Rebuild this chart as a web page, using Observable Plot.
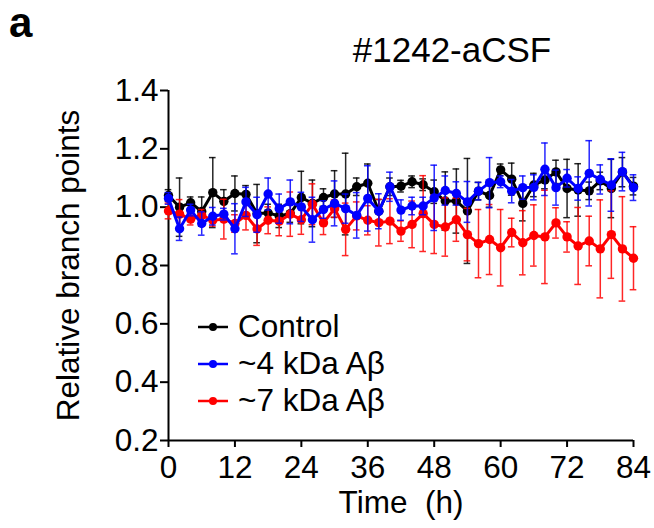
<!DOCTYPE html>
<html>
<head>
<meta charset="utf-8">
<script src="https://cdn.jsdelivr.net/npm/d3@7"></script>
<script src="https://cdn.jsdelivr.net/npm/@observablehq/plot@0.6"></script>
<style>
  html, body { margin: 0; padding: 0; background: #fff; }
  body { width: 654px; height: 528px; overflow: hidden; font-family: "Liberation Sans", Arial, sans-serif; }
  #wrap { position: relative; width: 654px; height: 528px; }
  #header { position: relative; width: 654px; height: 70px; }
  #panel { position: absolute; left: 9px; top: 2px; font-size: 42px; font-weight: bold; line-height: 1; }
  #title { position: absolute; left: 0; width: 904px; text-align: center; top: 32px; font-size: 35px; line-height: 1; }
  #legend { position: absolute; left: 196px; top: 308px; font-size: 31.5px; }
  .row { display: flex; align-items: center; height: 37px; }
  .row svg { margin-right: 8px; }
</style>
</head>
<body>
<div id="wrap">
  <div id="header"><div id="panel">a</div><div id="title">#1242-aCSF</div></div>
  <div id="chart"></div>
  <div id="legend"></div>
</div>
<script>
// Time points (h)
const hours = [0,2,4,6,8,10,12,14,16,18,20,22,24,26,28,30,32,34,36,38,40,42,44,46,48,50,52,54,56,58,60,62,64,66,68,70,72,74,76,78,80,82,84];

// Control
const controlMean = [1.04,1.00,1.015,0.985,1.05,1.02,1.047,1.044,0.978,0.98,0.97,0.978,1.033,1.013,1.033,1.045,1.045,1.07,1.082,0.986,1.07,1.072,1.087,1.077,1.053,1.021,1.021,0.987,1.055,1.04,1.128,1.096,1.013,1.076,1.093,1.121,1.064,1.059,1.056,1.09,1.064,1.12,1.072];
const controlSem  = [0.02,0.10,0.02,0.05,0.12,0.04,0.06,0.03,0.10,0.03,0.04,0.03,0.09,0.08,0.03,0.08,0.14,0.03,0.066,0.04,0.03,0.02,0.02,0.02,0.04,0.10,0.11,0.18,0.03,0.04,0.02,0.055,0.06,0.04,0.03,0.04,0.10,0.09,0.03,0.03,0.10,0.05,0.03];

// ~4 kDa Aβ
const a4Mean = [1.03,0.926,0.99,0.944,0.969,0.976,0.926,1.018,0.974,1.045,0.995,1.018,1.001,0.957,0.992,1.013,0.995,0.972,1.03,0.986,1.07,0.99,1.004,1.004,1.032,1.057,1.047,1.018,1.055,1.084,1.087,1.055,1.067,1.068,1.13,1.067,1.099,1.064,1.116,1.095,1.076,1.122,1.067];
const a4Sem  = [0.02,0.04,0.02,0.04,0.03,0.02,0.086,0.05,0.06,0.055,0.05,0.075,0.05,0.077,0.03,0.077,0.05,0.078,0.112,0.06,0.05,0.035,0.03,0.03,0.112,0.05,0.04,0.07,0.03,0.086,0.02,0.04,0.04,0.043,0.09,0.06,0.03,0.04,0.112,0.05,0.09,0.066,0.044];

// ~7 kDa Aβ
const a7Mean = [0.987,0.976,0.959,0.972,0.955,0.959,0.944,0.972,0.925,0.955,0.952,0.976,0.957,1.01,0.946,0.995,0.924,0.97,0.955,0.947,0.952,0.918,0.941,0.978,0.941,0.932,0.957,0.906,0.875,0.889,0.861,0.913,0.878,0.903,0.898,0.946,0.898,0.867,0.884,0.857,0.906,0.857,0.825];
const a7Sem  = [0.027,0.05,0.02,0.02,0.02,0.068,0.03,0.05,0.056,0.046,0.05,0.076,0.05,0.07,0.04,0.03,0.09,0.048,0.05,0.08,0.077,0.035,0.08,0.13,0.10,0.10,0.074,0.09,0.117,0.12,0.131,0.049,0.11,0.105,0.16,0.052,0.052,0.132,0.085,0.168,0.15,0.179,0.108];

const seriesNames = ["Control", "~4 kDa Aβ", "~7 kDa Aβ"];
const seriesColors = ["#000000", "#0000ff", "#ff0000"];
const xTicks = [0, 12, 24, 36, 48, 60, 72, 84];
const yTicks = [0.2, 0.4, 0.6, 0.8, 1.0, 1.2, 1.4];
const xLabel = "Time\u00A0\u00A0(h)";
const yLabel = "Relative branch points";

const series = [
  {name: seriesNames[0], color: seriesColors[0], mean: controlMean, sem: controlSem},
  {name: seriesNames[1], color: seriesColors[1], mean: a4Mean, sem: a4Sem},
  {name: seriesNames[2], color: seriesColors[2], mean: a7Mean, sem: a7Sem}
];
const rowsOf = s => hours.map((h, i) => ({h, m: s.mean[i], s: s.sem[i]}));

// draw order: control, ~7 kDa, ~4 kDa
const drawOrder = [series[0], series[2], series[1]];
const marks = [];
for (const s of drawOrder) {
  const rows = rowsOf(s);
  marks.push(
    Plot.ruleX(rows, {x: "h", y1: d => d.m - d.s, y2: d => d.m + d.s, stroke: s.color, strokeWidth: 1.5, strokeOpacity: 0.85}),
    Plot.ruleY(rows, {y: d => d.m + d.s, x1: d => d.h - 0.6, x2: d => d.h + 0.6, stroke: s.color, strokeWidth: 1.5, strokeOpacity: 0.85}),
    Plot.ruleY(rows, {y: d => d.m - d.s, x1: d => d.h - 0.6, x2: d => d.h + 0.6, stroke: s.color, strokeWidth: 1.5, strokeOpacity: 0.85}),
    Plot.line(rows, {x: "h", y: "m", stroke: s.color, strokeWidth: 3}),
    Plot.dot(rows, {x: "h", y: "m", r: 4.7, fill: s.color, stroke: "none"})
  );
}

const chart = Plot.plot({
  width: 654,
  height: 458,
  marginLeft: 168,
  marginRight: 21,
  marginTop: 20,
  marginBottom: 88,
  style: {fontFamily: "Liberation Sans, Arial, sans-serif", fontSize: "31.5px", background: "white", color: "black", overflow: "visible"},
  x: {domain: [0, 84]},
  y: {domain: [0.2, 1.4]},
  marks: [
    Plot.axisX({ticks: xTicks, tickSize: 7, tickPadding: 8, strokeWidth: 2, fontSize: 31.5, label: null}),
    Plot.axisY({ticks: yTicks, tickSize: 8, tickPadding: 2, strokeWidth: 2, fontSize: 31.5,
      tickFormat: d3.format(".1f"), label: null}),
    Plot.ruleX([0], {strokeWidth: 2, stroke: "black"}),
    Plot.ruleY([0.2], {strokeWidth: 2, stroke: "black"}),
    Plot.text([xLabel], {frameAnchor: "bottom", dy: 72, fontSize: 31.5, lineAnchor: "bottom", text: d => d}),
    Plot.text([yLabel], {frameAnchor: "left", dx: -112, rotate: -90, fontSize: 31.5, lineAnchor: "top", textAnchor: "middle", text: d => d}),
    ...marks
  ]
});
document.getElementById("chart").appendChild(chart);

// Legend
const legend = document.getElementById("legend");
for (const s of series) {
  const row = document.createElement("div");
  row.className = "row";
  row.innerHTML = `<svg width="34" height="12"><line x1="2" x2="32" y1="6" y2="6" stroke="${s.color}" stroke-width="2.5"/><circle cx="17" cy="6" r="4" fill="${s.color}"/></svg><span>${s.name}</span>`;
  legend.appendChild(row);
}
</script>
</body>
</html>
